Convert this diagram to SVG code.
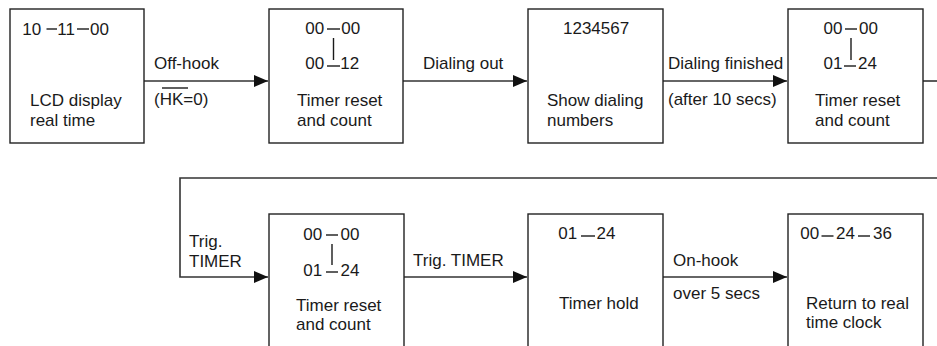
<svg xmlns="http://www.w3.org/2000/svg" width="937" height="346" viewBox="0 0 937 346">
<style>
text{font-family:"Liberation Sans",Arial,sans-serif;font-size:17px;fill:#1a1a1a}
.box{fill:#fff;stroke:#222;stroke-width:1.4}
.dash{stroke:#1a1a1a;stroke-width:1.4}
.conn{fill:none;stroke:#333;stroke-width:1.6}
</style>
<defs>
<marker id="arr" markerUnits="userSpaceOnUse" markerWidth="14" markerHeight="12" refX="14" refY="6" orient="auto">
<path d="M0,0 L14,6 L0,12 z" fill="#111"/>
</marker>
</defs>
<rect width="937" height="346" fill="#fff"/>
<g id="connectors">
<line class="conn" x1="144" y1="81" x2="268" y2="81" marker-end="url(#arr)"/>
<line class="conn" x1="403" y1="81" x2="527" y2="81" marker-end="url(#arr)"/>
<line class="conn" x1="663" y1="81" x2="787" y2="81" marker-end="url(#arr)"/>
<line class="conn" x1="923" y1="81" x2="937" y2="81"/>
<polyline class="conn" points="937,178 180,178 180,277 268,277" marker-end="url(#arr)"/>
<line class="conn" x1="404" y1="277" x2="527" y2="277" marker-end="url(#arr)"/>
<line class="conn" x1="663" y1="277" x2="787" y2="277" marker-end="url(#arr)"/>
<text x="154" y="69">Off-hook</text>
<text x="154" y="105">(HK=0)</text>
<line class="dash" x1="162" y1="88" x2="188" y2="88"/>
<text x="423" y="69">Dialing out</text>
<text x="668" y="69">Dialing finished</text>
<text x="668" y="105">(after 10 secs)</text>
<text x="189" y="247">Trig.</text>
<text x="189" y="267">TIMER</text>
<text x="413" y="266">Trig. TIMER</text>
<text x="673" y="266">On-hook</text>
<text x="673" y="299">over 5 secs</text>
</g>
<g id="n1">
<rect class="box" x="10" y="9" width="134" height="134"/>
<text x="22.2" y="34.5">10</text>
<line class="dash" x1="46.5" y1="29" x2="57" y2="29"/>
<text x="57.2" y="34.5">11</text>
<line class="dash" x1="77" y1="29" x2="89" y2="29"/>
<text x="90" y="34.5">00</text>
<text x="30" y="106">LCD display</text>
<text x="30" y="126">real time</text>
</g>
<g id="n2">
<rect class="box" x="269" y="9" width="134" height="134"/>
<text x="305.3" y="34">00</text>
<line class="dash" x1="327" y1="29" x2="340" y2="29"/>
<text x="341.3" y="34">00</text>
<line class="dash" x1="333.5" y1="38" x2="333.5" y2="60"/>
<text x="305.3" y="69">00</text>
<line class="dash" x1="327" y1="66" x2="340" y2="66"/>
<text x="340.2" y="69">12</text>
<text x="297" y="106">Timer reset</text>
<text x="297" y="126">and count</text>
</g>
<g id="n3">
<rect class="box" x="528" y="9" width="135" height="134"/>
<text x="563" y="34">1234567</text>
<text x="547" y="106">Show dialing</text>
<text x="547" y="126">numbers</text>
</g>
<g id="n4">
<rect class="box" x="788" y="9" width="135" height="134"/>
<text x="823.5" y="34">00</text>
<line class="dash" x1="845" y1="29" x2="857" y2="29"/>
<text x="859" y="34">00</text>
<line class="dash" x1="851" y1="38" x2="851" y2="60"/>
<text x="823.5" y="69">01</text>
<line class="dash" x1="844" y1="66" x2="856" y2="66"/>
<text x="858" y="69">24</text>
<text x="815" y="106">Timer reset</text>
<text x="815" y="126">and count</text>
</g>
<g id="n5">
<rect class="box" x="269" y="214" width="135" height="140"/>
<text x="303.3" y="240">00</text>
<line class="dash" x1="326" y1="235" x2="338" y2="235"/>
<text x="340.5" y="240">00</text>
<line class="dash" x1="332" y1="244" x2="332" y2="265"/>
<text x="303.3" y="276">01</text>
<line class="dash" x1="326" y1="272" x2="338" y2="272"/>
<text x="340.5" y="276">24</text>
<text x="296" y="311">Timer reset</text>
<text x="296" y="330">and count</text>
</g>
<g id="n6">
<rect class="box" x="528" y="214" width="135" height="140"/>
<text x="558.3" y="239">01</text>
<line class="dash" x1="581" y1="236" x2="595" y2="236"/>
<text x="596.5" y="239">24</text>
<text x="559" y="309">Timer hold</text>
</g>
<g id="n7">
<rect class="box" x="788" y="214" width="135" height="140"/>
<text x="800.3" y="239">00</text>
<line class="dash" x1="821.5" y1="236" x2="833.5" y2="236"/>
<text x="836" y="239">24</text>
<line class="dash" x1="858" y1="236" x2="870" y2="236"/>
<text x="873" y="239">36</text>
<text x="806" y="309">Return to real</text>
<text x="806" y="328">time clock</text>
</g>
</svg>
